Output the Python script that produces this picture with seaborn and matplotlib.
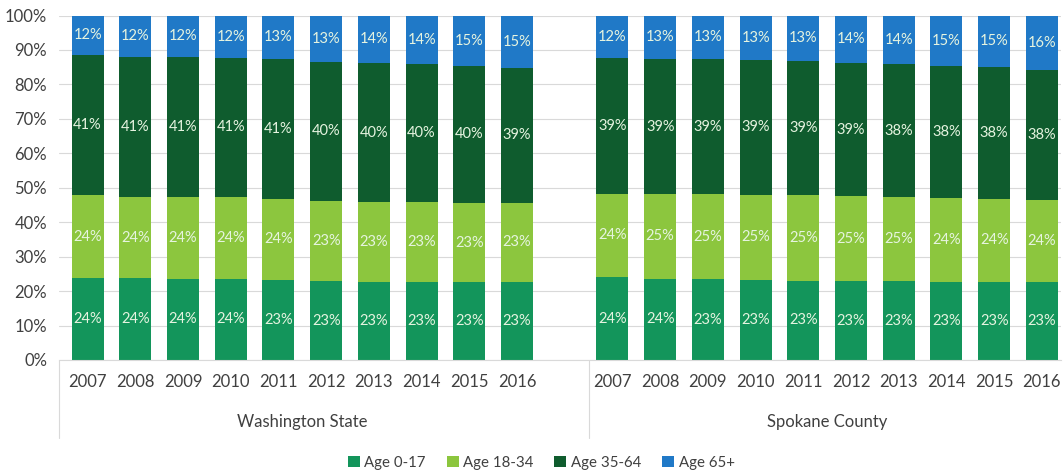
import matplotlib
matplotlib.use("Agg")
import matplotlib.pyplot as plt
from matplotlib.patches import Patch
import matplotlib.transforms as mtransforms
import numpy as np
import pandas as pd
import seaborn as sns

# ---- data (percent of population by age group) ----
years = [2007, 2008, 2009, 2010, 2011, 2012, 2013, 2014, 2015, 2016]
regions = ["Washington State", "Spokane County"]
age_groups = ["Age 0-17", "Age 18-34", "Age 35-64", "Age 65+"]

wa_0_17 = [23.8, 23.7, 23.6, 23.6, 23.2, 22.8, 22.7, 22.7, 22.6, 22.6]
wa_18_34 = [24.0, 23.7, 23.8, 23.6, 23.6, 23.4, 23.2, 23.1, 23.0, 23.1]
wa_35_64 = [40.6, 40.6, 40.6, 40.6, 40.6, 40.4, 40.2, 40.0, 39.8, 39.1]
wa_65_plus = [11.6, 12.0, 12.0, 12.2, 12.6, 13.4, 13.9, 14.2, 14.6, 15.2]

sp_0_17 = [24.0, 23.6, 23.4, 23.2, 23.0, 22.9, 22.8, 22.7, 22.6, 22.6]
sp_18_34 = [24.3, 24.6, 24.7, 24.8, 24.8, 24.7, 24.6, 24.4, 24.2, 23.9]
sp_35_64 = [39.4, 39.1, 39.2, 39.0, 39.0, 38.6, 38.4, 38.2, 38.2, 37.8]
sp_65_plus = [12.3, 12.7, 12.7, 13.0, 13.2, 13.8, 14.2, 14.7, 15.0, 15.7]

colors = ["#13955b", "#8cc63e", "#0f5c2e", "#2079c7"]

series = {
    "Washington State": [wa_0_17, wa_18_34, wa_35_64, wa_65_plus],
    "Spokane County": [sp_0_17, sp_18_34, sp_35_64, sp_65_plus],
}

# long table: one row per region/year/age group
rows = []
for region in regions:
    for gi, group in enumerate(age_groups):
        for yi, yr in enumerate(years):
            rows.append({"region": region, "year": yr, "group": group,
                         "slot": f"{region}|{yr}",
                         "value": series[region][gi][yi]})
df = pd.DataFrame(rows)

# stack tops per slot (cumulative share)
df["top"] = df.groupby("slot")["value"].cumsum()
df["mid"] = df["top"] - df["value"] / 2

# category order with an empty slot separating the two regions
order = [f"{regions[0]}|{y}" for y in years] + ["gap"] + [f"{regions[1]}|{y}" for y in years]

sns.set_theme(style="white")
plt.rcParams["font.family"] = ["Lato", "DejaVu Sans"]

fig = plt.figure(figsize=(10.63, 4.76), dpi=100)
ax = fig.add_axes([0.0555, 0.2437, 0.9426, 0.7237])

# draw stacked bars: tallest cumulative layer first, lower layers on top
for group, color in reversed(list(zip(age_groups, colors))):
    layer = df[df["group"] == group]
    sns.barplot(data=layer, x="slot", y="top", order=order, color=color,
                saturation=1, width=0.67, errorbar=None, ax=ax, zorder=2,
                linewidth=0)

# segment labels
pos = {s: i for i, s in enumerate(order)}
for _, r in df.iterrows():
    ax.text(pos[r["slot"]], r["mid"], f"{r['value']:.0f}%", ha="center",
            va="center", fontsize=10.5, color="#e6f4e0", zorder=3)

ax.set_xlim(-0.6, 20.4)
ax.set_ylim(0, 100)
ax.set_yticks(np.arange(0, 101, 10))
ax.set_yticklabels([f"{v}%" for v in range(0, 101, 10)], fontsize=12, color="#404040")
ax.yaxis.grid(True, color="#d9d9d9", linewidth=0.8)
ax.set_axisbelow(True)

ax.set_xticks(range(len(order)))
ax.set_xticklabels([s.split("|")[1] if "|" in s else "" for s in order],
                   fontsize=12, color="#404040")
ax.tick_params(axis="x", length=0, pad=10)
ax.tick_params(axis="y", length=0, pad=8.5)
ax.set_xlabel("")
ax.set_ylabel("")

for side in ["top", "right", "left"]:
    ax.spines[side].set_visible(False)
ax.spines["bottom"].set_color("#d9d9d9")
ax.spines["bottom"].set_linewidth(0.8)

# region labels and separators under the year labels
trans = mtransforms.blended_transform_factory(ax.transData, ax.transAxes)
ax.text(4.5, -0.18, regions[0], transform=trans, ha="center", va="center",
        fontsize=12, color="#404040")
ax.text(15.5, -0.18, regions[1], transform=trans, ha="center", va="center",
        fontsize=12, color="#404040")
for xsep in [-0.6, 10.5]:
    ax.plot([xsep, xsep], [0, -0.225], transform=trans, color="#d9d9d9",
            linewidth=0.8, clip_on=False)

handles = [Patch(facecolor=c, edgecolor="none", label=g) for g, c in zip(age_groups, colors)]
fig.legend(handles=handles, loc="center", bbox_to_anchor=(0.509, 0.028), ncol=4,
           frameon=False, fontsize=10.8, handlelength=0.8, handleheight=0.8,
           handletextpad=0.3, columnspacing=1.4, labelcolor="#404040")

fig.savefig("out.png", dpi=100)
